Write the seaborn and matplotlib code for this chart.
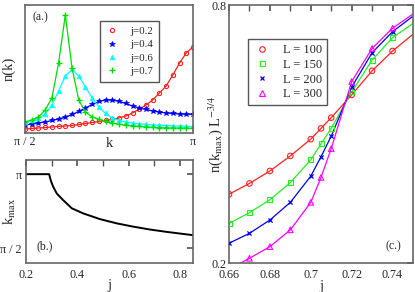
import numpy as np
import pandas as pd
import matplotlib
matplotlib.use("Agg")
import matplotlib.pyplot as plt
from matplotlib.lines import Line2D
import seaborn as sns

# ---------------- data ----------------
# panel (a): k in units of pi, n(k) arbitrary units
k_over_pi = [0.50, 0.52, 0.54, 0.56, 0.58, 0.60, 0.62, 0.64, 0.66, 0.68,
             0.70, 0.72, 0.74, 0.76, 0.78, 0.80, 0.82, 0.84, 0.86, 0.88,
             0.90, 0.92, 0.94, 0.96, 0.98, 1.00]
n_j02 = [4, 4.5, 5, 5.5, 6, 6.5, 7, 7.5, 8.5, 9.5, 10.5, 11.5, 12.5, 13.5, 15,
         17, 20, 24, 28, 33, 40, 47, 58, 70, 80, 86]
n_j04 = [8, 9, 10, 11, 12.5, 14, 16, 18.5, 21.5, 25, 28.5, 31.5, 33, 33, 31.5,
         29.5, 27, 25, 23.5, 22, 21, 20, 19.5, 19, 18.8, 18.6]
n_j06 = [11, 12.5, 14.5, 19, 28, 42, 57, 63.5, 57, 46, 35, 26, 19.5, 15, 12.5,
         11, 10, 9.2, 8.6, 8.1, 7.7, 7.4, 7.1, 6.9, 6.7, 6.5]
n_j07 = [11, 13, 16, 23, 35, 70, 118, 65, 33, 21, 16, 14, 11.5, 10, 8.8, 7.8,
         7, 6.5, 6, 5.6, 5.3, 5.1, 5, 4.9, 4.8, 4.7]
labels_a = ["j=0.2", "j=0.4", "j=0.6", "j=0.7"]

# panel (b): k_max vs j
j_b = [0.20, 0.29, 0.293, 0.297, 0.306, 0.32, 0.345, 0.378, 0.423, 0.488,
       0.553, 0.618, 0.682, 0.747, 0.85]
kmax_b = [3.1416, 3.1416, 3.08, 3.0, 2.873, 2.73, 2.59, 2.42, 2.31, 2.19,
          2.10, 2.03, 1.97, 1.92, 1.85]

# panel (c): n(k_max) L^-3/4 vs j
j_c = [0.66, 0.67, 0.68, 0.69, 0.70, 0.705, 0.71, 0.72, 0.73, 0.74, 0.75]
c_L100 = [0.360, 0.385, 0.414, 0.449, 0.488, 0.513, 0.538, 0.591, 0.647, 0.693, 0.732]
c_L150 = [0.292, 0.317, 0.347, 0.387, 0.440, 0.477, 0.513, 0.598, 0.672, 0.724, 0.757]
c_L200 = [0.246, 0.269, 0.300, 0.341, 0.402, 0.447, 0.495, 0.609, 0.689, 0.738, 0.774]
c_L300 = [0.185, 0.211, 0.238, 0.277, 0.341, 0.399, 0.466, 0.622, 0.699, 0.746, 0.779]
labels_c = ["L = 100", "L = 150", "L = 200", "L = 300"]

# ---------------- style ----------------
sns.set_theme(style="white")
plt.rcParams["font.family"] = ["Liberation Serif", "DejaVu Serif"]
plt.rcParams["mathtext.fontset"] = "stix"
plt.rcParams["axes.edgecolor"] = "#666666"
plt.rcParams["axes.linewidth"] = 1.2

TICK_FS = 8.7
LABEL_FS = 10.5

W, H = 415, 292
fig = plt.figure(figsize=(W / 100, H / 100), dpi=100)


def ax_px(l, t, r, b):
    return fig.add_axes([l / W, 1 - b / H, (r - l) / W, (b - t) / H])


axa = ax_px(25, 5, 193, 133)
axb = ax_px(26, 160, 193, 263)
axc = ax_px(229, 5, 413, 263)

# ---------------- panel (a) ----------------
k = np.array(k_over_pi) * np.pi
styles_a = [
    dict(color="#ff2020", marker="o", mfc="none", ms=3.0, mew=0.8),
    dict(color="#0000ff", marker="*", mfc="#0000ff", ms=4.0, mew=0.5),
    dict(color="#00ffff", marker="^", mfc="#00ffff", ms=3.3, mew=0.5),
    dict(color="#00dd00", marker="+", ms=4.2, mew=1.0),
]
handles_a = []
for y, lab, st in zip([n_j02, n_j04, n_j06, n_j07], labels_a, styles_a):
    df = pd.DataFrame({"k": k, "n": y})
    sns.lineplot(data=df, x="k", y="n", ax=axa, color=st["color"], lw=0.9,
                 marker=st["marker"], markersize=st["ms"],
                 markerfacecolor=st.get("mfc", st["color"]),
                 markeredgecolor=st["color"], markeredgewidth=st["mew"],
                 legend=False, clip_on=True)
    handles_a.append(Line2D([], [], ls="none", color=st["color"], marker=st["marker"],
                            ms=st["ms"], mfc=st.get("mfc", st["color"]),
                            mec=st["color"], mew=st["mew"], label=lab))
axa.set_xlim(np.pi / 2, np.pi)
axa.set_ylim(0, 128)
axa.set_xticks([np.pi / 2, np.pi])
axa.set_xticklabels(["π / 2", "π"])
axa.set_yticks([])
axa.tick_params(axis="x", length=0, labelsize=TICK_FS, pad=2)
axa.set_xlabel("k", fontsize=LABEL_FS)
axa.xaxis.set_label_coords(0.5, -0.03)
axa.set_ylabel("n(k)", fontsize=LABEL_FS)
axa.yaxis.set_label_coords(-0.055, 0.5)
axa.text(0.045, 0.905, "(a.)", transform=axa.transAxes, fontsize=8.5,
         va="center", ha="left")
lega = axa.legend(handles=handles_a, loc="upper left", bbox_to_anchor=(0.446, 0.875),
                  fontsize=7.8, frameon=True, fancybox=False, edgecolor="#555555",
                  framealpha=1, borderpad=0.5, labelspacing=0.35, handletextpad=1.1,
                  handlelength=1.2, borderaxespad=0)
lega.get_frame().set_linewidth(1.0)

# ---------------- panel (b) ----------------
dfb = pd.DataFrame({"j": j_b, "kmax": kmax_b})
sns.lineplot(data=dfb, x="j", y="kmax", ax=axb, color="black", lw=1.4, legend=False)
axb.set_xlim(0.2, 0.85)
axb.set_ylim(np.pi / 2 - 0.31, np.pi + 0.30)
axb.set_yticks([np.pi / 2, np.pi])
axb.set_yticklabels(["π / 2", "π"])
axb.set_xticks([0.2, 0.4, 0.6, 0.8])
axb.set_xticklabels(["0.2", "0.4", "0.6", "0.8"])
axb.set_xticks([0.3, 0.5, 0.7], minor=True)
axb.tick_params(axis="both", which="both", direction="in", top=True, right=True,
                labelsize=TICK_FS, color="#555555", length=4)
axb.tick_params(axis="x", pad=4)
axb.tick_params(axis="y", pad=3)
axb.set_xlabel("j", fontsize=LABEL_FS)
axb.xaxis.set_label_coords(0.5, -0.16)
axb.set_ylabel(r"k$_{\mathrm{max}}$", fontsize=LABEL_FS)
axb.yaxis.set_label_coords(-0.045, 0.5)
axb.text(0.064, 0.158, "(b.)", transform=axb.transAxes, fontsize=8.5,
         va="center", ha="left")

# ---------------- panel (c) ----------------
styles_c = [
    dict(color="#ff2020", marker="o", ms=4.0, mew=0.8),
    dict(color="#22ee22", marker="s", ms=3.6, mew=0.8),
    dict(color="#0000ee", marker="x", ms=3.0, mew=0.9),
    dict(color="#ff00ff", marker="^", ms=4.0, mew=0.8),
]
handles_c = []
for y, lab, st in zip([c_L100, c_L150, c_L200, c_L300], labels_c, styles_c):
    df = pd.DataFrame({"j": j_c, "v": y})
    sns.lineplot(data=df, x="j", y="v", ax=axc, color=st["color"], lw=0.9,
                 legend=False)
    dm = df[df["j"] < 0.745]
    sns.scatterplot(data=dm, x="j", y="v", ax=axc, marker=st["marker"], s=st["ms"] ** 2,
                    facecolor="none" if st["marker"] != "x" else st["color"],
                    edgecolor=st["color"], color=st["color"], linewidth=st["mew"],
                    legend=False, zorder=3)
    handles_c.append(Line2D([], [], ls="none", color=st["color"], marker=st["marker"],
                            ms=st["ms"], mfc="none", mec=st["color"], mew=st["mew"],
                            label=lab))
axc.set_xlim(0.66, 0.75)
axc.set_ylim(0.2, 0.8)
axc.set_xticks([0.66, 0.68, 0.70, 0.72, 0.74])
axc.set_xticklabels(["0.66", "0.68", "0.7", "0.72", "0.74"])
axc.set_xticks([0.67, 0.69, 0.71, 0.73], minor=True)
axc.set_yticks([0.2, 0.8])
axc.set_yticklabels(["0.2", "0.8"])
axc.tick_params(axis="both", which="both", direction="in", top=True, right=True,
                labelsize=TICK_FS, color="#555555", length=4)
axc.tick_params(axis="y", pad=2)
axc.tick_params(axis="x", pad=4)
axc.set_xlabel("j", fontsize=LABEL_FS)
axc.xaxis.set_label_coords(0.5, -0.065)
axc.set_ylabel(r"n(k$_{\mathrm{max}}$) L$^{-3/4}$", fontsize=LABEL_FS)
axc.yaxis.set_label_coords(-0.02, 0.5)
axc.text(0.848, 0.063, "(c.)", transform=axc.transAxes, fontsize=8.5,
         va="center", ha="left")
legc = axc.legend(handles=handles_c, loc="upper left", bbox_to_anchor=(0.103, 0.868),
                  fontsize=9, frameon=True, fancybox=False, edgecolor="#555555",
                  framealpha=1, borderpad=0.4, labelspacing=0.22, handletextpad=1.0,
                  handlelength=1.4, borderaxespad=0)
legc.get_frame().set_linewidth(1.0)

fig.savefig("out.png", dpi=100)
